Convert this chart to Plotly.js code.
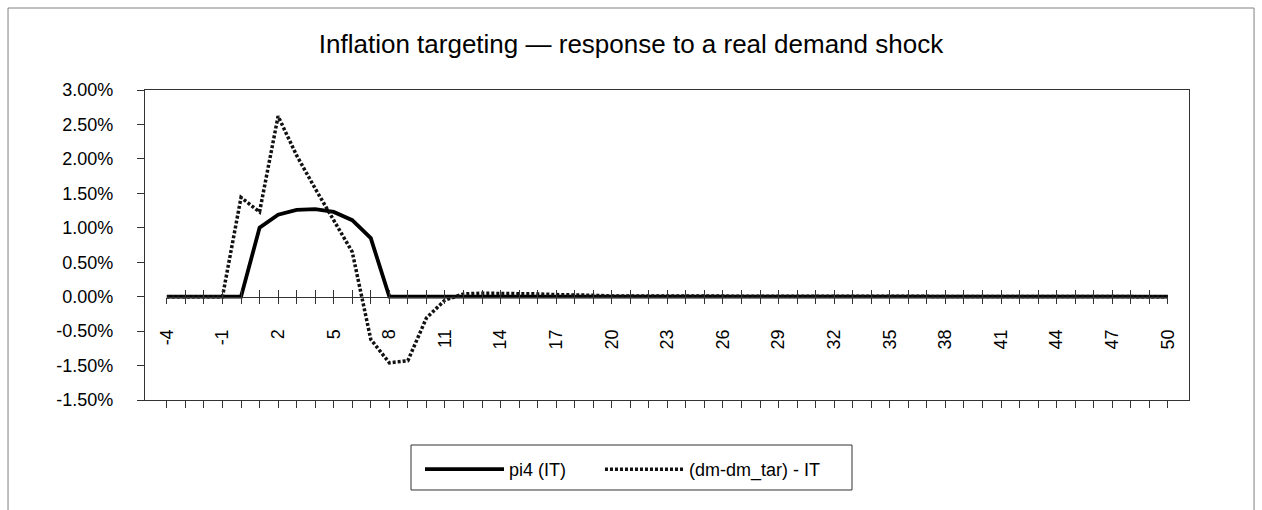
<!DOCTYPE html>
<html>
<head>
<meta charset="utf-8">
<script src="https://cdn.plot.ly/plotly-3.0.1.min.js"></script>
<style>
  html, body { margin: 0; padding: 0; background: #fff; }
  #chart { width: 1262px; height: 510px; }
</style>
</head>
<body>
<div id="chart"></div>
<script>
// Periods (quarters relative to the shock)
const periods = [-4,-3,-2,-1,0,1,2,3,4,5,6,7,8,9,10,11,12,13,14,15,16,17,18,19,20,
  21,22,23,24,25,26,27,28,29,30,31,32,33,34,35,36,37,38,39,40,41,42,43,44,45,46,47,48,49,50];

// pi4 (IT), in percent
const pi4IT = [0,0,0,0,0, 1.00,1.19,1.26,1.27,1.23,1.11,0.85, 0,0,0,0,0,0,0,0,0,0,
  0,0,0,0,0,0,0,0,0,0,0,0,0,0,0,0,0,0,0,0,0,0,0,0,0,0,0,0,0,0,0,0,0];

// (dm-dm_tar) - IT, in percent
const dmGapIT = [0,0,0,0, 1.44,1.23,2.62,2.05,1.57,1.12,0.65,-0.62,-0.96,-0.93,-0.31,-0.05,
  0.04,0.05,0.05,0.05,0.04,0.03,0.03,0.02,0.01,0.01,0.01,0.005,0.005,0.005,0.005,0.005,0.005,
  0.005,0.005,0.005,0.005,0.005,0.005,0.005,0,0,0,0,0,0,0,0,0,0,0,0,0,0,0];

// Axis ticks
const yTickVals = [-1.5,-1.0,-0.5,0,0.5,1.0,1.5,2.0,2.5,3.0];
const yTickText = ['-1.50%','-1.50%','-0.50%','0.00%','0.50%','1.00%','1.50%','2.00%','2.50%','3.00%'];
const xLabelledPeriods = [-4,-1,2,5,8,11,14,17,20,23,26,29,32,35,38,41,44,47,50];

const seriesNames = ['pi4 (IT)', '(dm-dm_tar) - IT'];
const titleText = 'Inflation targeting \u2014 response to a real demand shock';

const xTickText = periods.map(p => xLabelledPeriods.includes(p) ? String(p) : '');
const xRange = [-5.18, 51.14];
const xFirst = periods[0], xLast = periods[periods.length - 1];
// zero-line axis spans only the category range
const zeroDomain = [(xFirst - xRange[0]) / (xRange[1] - xRange[0]), (xLast - xRange[0]) / (xRange[1] - xRange[0])];
const FONT = 'Liberation Sans, Arial, sans-serif';
const AXC = '#333333';

const traces = [
  { x: periods, y: pi4IT, name: seriesNames[0], type: 'scatter', mode: 'lines', legend: 'legend',
    line: { color: '#000000', width: 3.8 }, hoverinfo: 'skip' },
  { x: periods, y: dmGapIT, name: seriesNames[1], type: 'scatter', mode: 'lines', legend: 'legend2',
    line: { color: '#111111', width: 3.5, dash: '3px,2px' }, hoverinfo: 'skip' },
  // empty carriers so the zero-line axes are drawn
  { x: [null], y: [null], xaxis: 'x2', yaxis: 'y', type: 'scatter', mode: 'lines',
    showlegend: false, hoverinfo: 'skip' },
  { x: [null], y: [null], xaxis: 'x3', yaxis: 'y', type: 'scatter', mode: 'lines',
    showlegend: false, hoverinfo: 'skip' }
];

const legendCommon = { orientation: 'h', xanchor: 'left', y: -0.1645, yanchor: 'top',
  borderwidth: 0, bgcolor: 'rgba(255,255,255,0)', itemwidth: 79,
  font: { family: FONT, size: 18, color: '#000000' } };

const layout = {
  width: 1262, height: 510,
  margin: { l: 145, r: 73, t: 90, b: 110, pad: 0 },
  paper_bgcolor: '#ffffff', plot_bgcolor: 'rgba(255,255,255,0)',
  font: { family: FONT, size: 18, color: '#000000' },
  title: { text: titleText, font: { family: FONT, size: 26, color: '#000000' },
    xref: 'container', x: 0.5, xanchor: 'center', yref: 'container', y: 0.914, yanchor: 'middle' },
  showlegend: true,
  legend: Object.assign({}, legendCommon, { x: 0.2634 }),
  legend2: Object.assign({}, legendCommon, { x: 0.4358 }),
  xaxis: { range: xRange, tickmode: 'array', tickvals: periods, showticklabels: false,
    ticks: 'outside', ticklen: 7, tickwidth: 1, tickcolor: AXC,
    showline: true, linecolor: AXC, linewidth: 1.2, mirror: true,
    showgrid: false, zeroline: false, fixedrange: true },
  xaxis2: { anchor: 'free', position: 1/3, domain: zeroDomain, range: [xFirst, xLast],
    tickmode: 'array', tickvals: periods, ticktext: xTickText, tickangle: -90,
    ticks: 'outside', ticklen: 6.5, tickwidth: 1, tickcolor: AXC, ticklabelstandoff: 18,
    tickfont: { family: FONT, size: 18, color: '#000000' },
    showline: true, linecolor: AXC, linewidth: 1, showgrid: false, zeroline: false, fixedrange: true },
  xaxis3: { anchor: 'free', position: 1/3, domain: zeroDomain, range: [xFirst, xLast],
    tickmode: 'array', tickvals: periods, showticklabels: false,
    ticks: 'inside', ticklen: 6.5, tickwidth: 1, tickcolor: AXC,
    showline: false, showgrid: false, zeroline: false, fixedrange: true },
  yaxis: { range: [-1.5, 3.0], tickmode: 'array', tickvals: yTickVals, ticktext: yTickText,
    ticks: 'outside', ticklen: 7, tickwidth: 1, tickcolor: AXC, ticklabelstandoff: 20,
    tickfont: { family: FONT, size: 18, color: '#000000' },
    showline: true, linecolor: AXC, linewidth: 1.2, mirror: true,
    showgrid: false, zeroline: false, fixedrange: true },
  shapes: [
    { type: 'rect', xref: 'paper', yref: 'paper', x0: -0.1312, x1: 1.0623, y0: -0.40, y1: 1.2645,
      line: { color: '#808080', width: 1 }, fillcolor: 'rgba(0,0,0,0)', layer: 'below' },
    { type: 'rect', xref: 'paper', yref: 'paper', x0: 0.2548, x1: 0.6772, y0: -0.1452, y1: -0.2903,
      line: { color: AXC, width: 1 }, fillcolor: 'rgba(0,0,0,0)', layer: 'below' }
  ]
};

Plotly.newPlot('chart', traces, layout, { staticPlot: true, displayModeBar: false });
</script>
</body>
</html>
